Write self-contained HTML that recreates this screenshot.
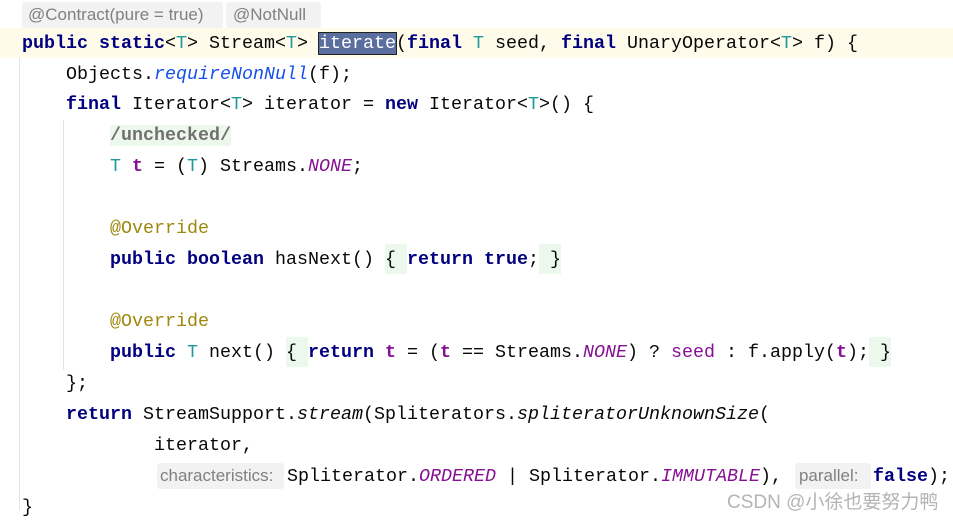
<!DOCTYPE html>
<html><head><meta charset="utf-8"><style>
body{margin:0;width:953px;height:519px;background:#fff;position:relative;overflow:hidden}
.l{position:absolute;left:22px;height:31px;line-height:31px;font-family:"Liberation Mono",monospace;font-size:18.33px;color:#080808;white-space:pre}
.k{color:#000080;font-weight:bold}
.tp{color:#20999d}
.it{font-style:italic}
.mb{color:#1750eb;font-style:italic}
.cn{color:#871094;font-style:italic}
.pv{color:#871094;font-weight:bold}
.sd{color:#871094}
.an{color:#9e880d}
.cm{color:#707070;font-weight:bold;background:#edf8ec}
.fb{background:#edf8ec;display:inline-block;height:30px;vertical-align:top}
.h{font-family:"Liberation Sans",sans-serif;font-size:17px;color:#808080;background:#f2f2f2;border-radius:3px;display:inline-block;height:26px;line-height:26px;vertical-align:top;margin-top:2px;padding:0 3px;box-sizing:border-box;overflow:hidden}
.g{position:absolute;width:1px;background:#e4e4e4}
</style></head><body>
<div style="position:absolute;left:0;top:28px;width:953px;height:30px;background:#fefbea"></div>
<div class="g" style="left:19px;top:58px;height:452px"></div>
<div class="g" style="left:63px;top:120px;height:250px"></div>
<div class="l" style="top:0px"><span class="h" style="width:201px;padding-left:6px">@Contract(pure = true)</span><span class="h" style="width:95px;margin-left:3px;padding-left:7px">@NotNull</span></div>
<div class="l" style="top:28px"><span class="k">public static</span>&lt;<span class="tp">T</span>&gt; Stream&lt;<span class="tp">T</span>&gt; <span style="background:#5b6ea0;color:#fff;outline:1px solid #222">iterate</span>(<span class="k">final</span> <span class="tp">T</span> seed, <span class="k">final</span> UnaryOperator&lt;<span class="tp">T</span>&gt; f) {</div>
<div class="l" style="top:59px">    Objects.<span class="mb">requireNonNull</span>(f);</div>
<div class="l" style="top:89px">    <span class="k">final</span> Iterator&lt;<span class="tp">T</span>&gt; iterator = <span class="k">new</span> Iterator&lt;<span class="tp">T</span>&gt;() {</div>
<div class="l" style="top:120px">        <span class="cm">/unchecked/</span></div>
<div class="l" style="top:151px">        <span class="tp">T</span> <span class="pv">t</span> = (<span class="tp">T</span>) Streams.<span class="cn">NONE</span>;</div>
<div class="l" style="top:213px">        <span class="an">@Override</span></div>
<div class="l" style="top:244px">        <span class="k">public boolean</span> hasNext() <span class="fb">{ </span><span class="k">return true</span>;<span class="fb"> }</span></div>
<div class="l" style="top:306px">        <span class="an">@Override</span></div>
<div class="l" style="top:337px">        <span class="k">public</span> <span class="tp">T</span> next() <span class="fb">{ </span><span class="k">return</span> <span class="pv">t</span> = (<span class="pv">t</span> == Streams.<span class="cn">NONE</span>) ? <span class="sd">seed</span> : f.apply(<span class="pv">t</span>);<span class="fb"> }</span></div>
<div class="l" style="top:368px">    };</div>
<div class="l" style="top:399px">    <span class="k">return</span> StreamSupport.<span class="it">stream</span>(Spliterators.<span class="it">spliteratorUnknownSize</span>(</div>
<div class="l" style="top:430px">            iterator,</div>
<div class="l" style="top:461px">            <span class="h" style="width:127px;margin-left:3px;margin-right:3px">characteristics:</span>Spliterator.<span class="cn">ORDERED</span> | Spliterator.<span class="cn">IMMUTABLE</span>), <span class="h" style="width:76px;margin-left:2px;margin-right:2px;padding-left:4px">parallel:</span><span class="k">false</span>);</div>
<div class="l" style="top:492px">}</div>
<div style="position:absolute;left:727px;top:487px;font-family:'Liberation Sans','Noto Sans CJK SC',sans-serif;font-size:19px;color:#b4b4b4;text-shadow:0 0 2px #fff">CSDN @小徐也要努力鸭</div>
</body></html>
